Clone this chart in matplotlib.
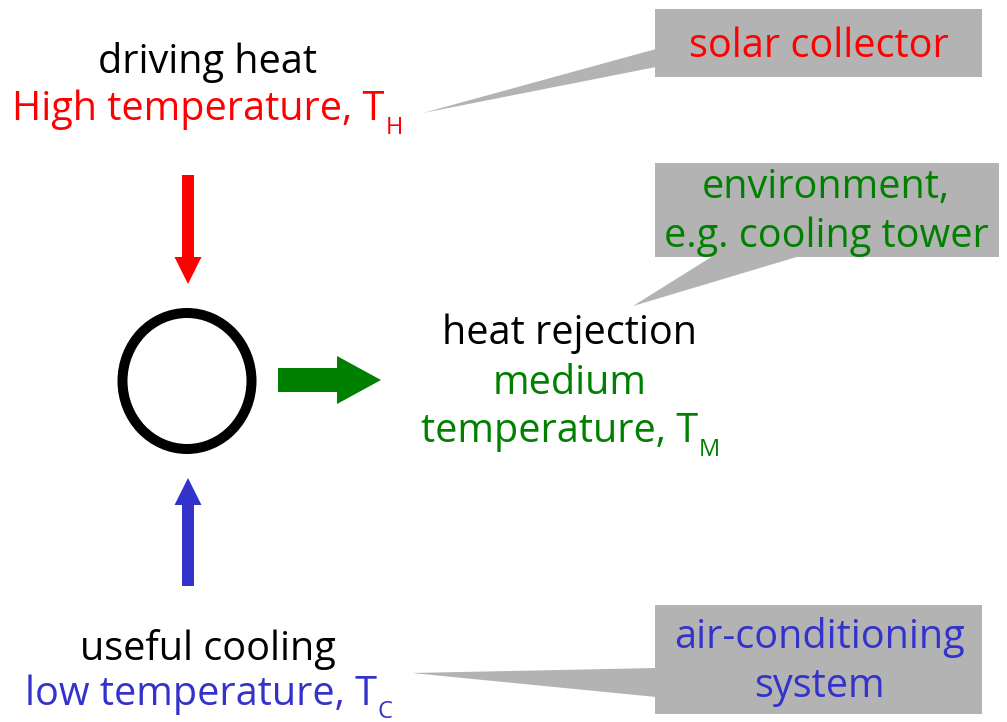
import matplotlib
matplotlib.use("Agg")
import matplotlib.pyplot as plt
from matplotlib.patches import Rectangle, Polygon, Ellipse

plt.rcParams['font.family'] = ['Open Sans', 'DejaVu Sans']

# ---- content ----
source_labels = ["driving heat", "High temperature, T"]
source_sub = "H"
sink_labels = ["heat rejection", "medium", "temperature, T"]
sink_sub = "M"
cool_labels = ["useful cooling", "low temperature, T"]
cool_sub = "C"
box_labels = [["solar collector"], ["environment,", "e.g. cooling tower"],
              ["air-conditioning", "system"]]

RED = "#ff0000"
GREEN = "#008000"
BLUE = "#3333cc"
GRAY = "#b3b3b3"

W, H = 1007, 722
fig = plt.figure(figsize=(W / 100, H / 100), dpi=100)
ax = fig.add_axes([0, 0, 1, 1])
ax.set_xlim(0, W)
ax.set_ylim(H, 0)
ax.axis("off")
renderer = fig.canvas.get_renderer()

FS = 28.5
SFS = 17


def text_width(s, fs):
    t = ax.text(0, 0, s, fontsize=fs)
    w = t.get_window_extent(renderer).width
    t.remove()
    return w


def sub_text(cx, base, main, sub, color, drop=14):
    wm = text_width(main, FS)
    ws = text_width(sub, SFS)
    x0 = cx - (wm + ws) / 2
    ax.text(x0, base, main, color=color, fontsize=FS, ha="left", va="baseline")
    ax.text(x0 + wm + 1, base + drop, sub, color=color, fontsize=SFS, ha="left", va="baseline")


# callout boxes with tails
boxes = [
    dict(rect=(655, 9, 327, 68), tail=[(656, 49), (656, 67), (423, 113)],
         lines=box_labels[0], color=RED, tx=819, bases=[57]),
    dict(rect=(655, 163, 344, 94), tail=[(713, 256), (800, 256), (633, 306)],
         lines=box_labels[1], color=GREEN, tx=826, bases=[198, 247]),
    dict(rect=(655, 605, 327, 109), tail=[(656, 668), (656, 697), (412, 673)],
         lines=box_labels[2], color=BLUE, tx=819, bases=[648, 697]),
]
for b in boxes:
    x, y, w, h = b["rect"]
    ax.add_patch(Rectangle((x, y), w, h, facecolor=GRAY, edgecolor="none", zorder=1))
    ax.add_patch(Polygon(b["tail"], closed=True, facecolor=GRAY, edgecolor="none", zorder=1))
    for line, base in zip(b["lines"], b["bases"]):
        ax.text(b["tx"], base, line, color=b["color"], fontsize=FS,
                ha="center", va="baseline", zorder=2)

# left-top texts
ax.text(207, 73, source_labels[0], color="black", fontsize=FS, ha="center", va="baseline")
sub_text(207, 120, source_labels[1], source_sub, RED)

# right-middle texts
ax.text(569, 344, sink_labels[0], color="black", fontsize=FS, ha="center", va="baseline")
ax.text(570, 394, sink_labels[1], color=GREEN, fontsize=FS, ha="center", va="baseline")
sub_text(570, 442, sink_labels[2], sink_sub, GREEN)

# bottom texts
ax.text(208, 660, cool_labels[0], color="black", fontsize=FS, ha="center", va="baseline")
sub_text(208, 705, cool_labels[1], cool_sub, BLUE, drop=13)

# circle
ax.add_patch(Ellipse((187, 381), 129, 136, facecolor="none", edgecolor="black",
                     linewidth=10 * 0.72, zorder=3))

# arrows
ax.arrow(188, 175, 0, 109, width=12, head_width=27, head_length=27,
         length_includes_head=True, color=RED, linewidth=0, zorder=3)
ax.arrow(188, 586, 0, -108, width=12, head_width=27, head_length=27,
         length_includes_head=True, color=BLUE, linewidth=0, zorder=3)
ax.arrow(278, 380, 103, 0, width=24, head_width=48, head_length=44,
         length_includes_head=True, color=GREEN, linewidth=0, zorder=3)

fig.savefig("out.png", dpi=100, facecolor="white")
